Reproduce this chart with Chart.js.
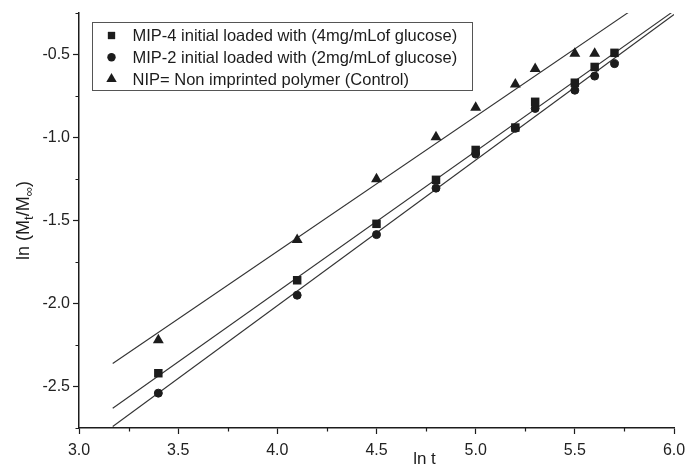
<!DOCTYPE html>
<html>
<head>
<meta charset="utf-8">
<title>ln(Mt/M∞) vs ln t</title>
<script src="https://cdn.jsdelivr.net/npm/chart.js@4.4.1/dist/chart.umd.min.js"></script>
<style>
  html, body { margin: 0; padding: 0; background: #ffffff; }
  canvas { display: block; }
</style>
</head>
<body>
<canvas id="chart" width="688" height="465"></canvas>
<script>
// ln t sampling points
const lnT  = [3.4, 4.1, 4.5, 4.8, 5.0, 5.2, 5.3, 5.5, 5.6, 5.7];
const nipT = [3.4, 4.1, 4.5, 4.8, 5.0, 5.2, 5.3, 5.5, 5.6];

// ln(Mt/M∞) for each polymer
const mip4 = [-2.42, -1.86, -1.52, -1.255, -1.075, -0.94, -0.785, -0.67, -0.575, -0.49];
const mip2 = [-2.54, -1.95, -1.585, -1.305, -1.10, -0.945, -0.825, -0.715, -0.63, -0.555];
const nip  = [-2.22, -1.617, -1.25, -0.997, -0.82, -0.68, -0.586, -0.494, -0.494];

// series names
const seriesNames = [
  'MIP-4 initial loaded with (4mg/mLof glucose)',
  'MIP-2 initial loaded with (2mg/mLof glucose)',
  'NIP= Non imprinted polymer (Control)'
];

// axis ranges and the ln t span covered by the regression lines
const xRange = [3.0, 6.0];
const yRange = [-2.75, -0.25];
const fitSpan = [3.17, 6.0];

const FONT = "'Liberation Sans', Arial, Helvetica, sans-serif";
const INK = '#1c1c1c';

// least-squares straight line through a series
function linearFit(xs, ys) {
  const n = xs.length;
  const mx = xs.reduce((a, b) => a + b, 0) / n;
  const my = ys.reduce((a, b) => a + b, 0) / n;
  let sxy = 0, sxx = 0;
  for (let i = 0; i < n; i++) {
    sxy += (xs[i] - mx) * (ys[i] - my);
    sxx += (xs[i] - mx) * (xs[i] - mx);
  }
  const slope = sxy / sxx;
  const icpt = my - slope * mx;
  return fitSpan.map(x => ({ x, y: icpt + slope * x }));
}

const toPoints = (xs, ys) => xs.map((x, i) => ({ x, y: ys[i] }));

const isMajor = v => Math.abs(v * 2 - Math.round(v * 2)) < 1e-6;

function markerDataset(label, xs, ys, style, radius) {
  return {
    label, data: toPoints(xs, ys), showLine: false,
    pointStyle: style, pointRadius: radius, pointHoverRadius: radius,
    backgroundColor: INK, borderColor: INK, borderWidth: style === 'circle' ? 1 : 0,
    order: 1, isMarker: true
  };
}
function fitDataset(xs, ys) {
  return {
    label: '', data: linearFit(xs, ys), showLine: true,
    pointRadius: 0, borderColor: '#333333', borderWidth: 1.1,
    fill: false, order: 2, isMarker: false
  };
}

// short minor ticks and axis titles
const axisDecor = {
  id: 'axisDecor',
  afterDraw(chart) {
    const { ctx, chartArea: a, scales: { x, y } } = chart;
    ctx.save();
    ctx.strokeStyle = INK;
    ctx.lineWidth = 1.2;
    ctx.beginPath();
    for (let v = xRange[0] + 0.25; v < xRange[1]; v += 0.5) {
      const px = Math.round(x.getPixelForValue(v)) + 0.5;
      ctx.moveTo(px, a.bottom);
      ctx.lineTo(px, a.bottom + 3.5);
    }
    for (let v = yRange[0]; v <= yRange[1] + 1e-9; v += 0.5) {
      const py = Math.round(y.getPixelForValue(v)) + 0.5;
      ctx.moveTo(a.left, py);
      ctx.lineTo(a.left - 3.5, py);
    }
    ctx.stroke();

    // x title
    ctx.fillStyle = INK;
    ctx.font = `17px ${FONT}`;
    ctx.textAlign = 'center';
    ctx.textBaseline = 'alphabetic';
    ctx.fillText('ln t', (a.left + a.right) / 2 + 48, 464);

    // y title with subscripts: ln (Mt/M∞)
    const parts = [
      ['ln (M', false], ['t', true], ['/M', false], ['\u221E', true], [')', false]
    ];
    const big = `18px ${FONT}`, small = `13px ${FONT}`;
    let total = 0;
    parts.forEach(([t, sub]) => { ctx.font = sub ? small : big; total += ctx.measureText(t).width; });
    ctx.translate(29, (a.top + a.bottom) / 2);
    ctx.rotate(-Math.PI / 2);
    ctx.textAlign = 'left';
    let cx = -total / 2;
    parts.forEach(([t, sub]) => {
      ctx.font = sub ? small : big;
      ctx.fillText(t, cx, sub ? 4 : 0);
      cx += ctx.measureText(t).width;
    });
    ctx.restore();
  }
};

// boxed legend in the upper left of the plot
function drawMarker(ctx, style, cx, cy, r) {
  ctx.beginPath();
  if (style === 'rect') {
    const s = r * Math.SQRT1_2;
    ctx.rect(cx - s, cy - s, 2 * s, 2 * s);
  } else if (style === 'circle') {
    ctx.arc(cx, cy, r, 0, Math.PI * 2);
  } else {
    for (let k = 0; k < 3; k++) {
      const ang = k * 2 * Math.PI / 3;
      const px = cx + Math.sin(ang) * r, py = cy - Math.cos(ang) * r;
      k ? ctx.lineTo(px, py) : ctx.moveTo(px, py);
    }
    ctx.closePath();
  }
  ctx.fill();
}
const boxLegend = {
  id: 'boxLegend',
  afterDatasetsDraw(chart) {
    const { ctx, chartArea: a } = chart;
    const left = a.left + 13.5, top = a.top + 9.5, w = 380, h = 68;
    ctx.save();
    ctx.fillStyle = '#ffffff';
    ctx.fillRect(left, top, w, h);
    ctx.strokeStyle = '#555555';
    ctx.lineWidth = 1;
    ctx.strokeRect(left, top, w, h);
    const markers = chart.data.datasets.filter(d => d.isMarker);
    const legendSize = { rect: 5.2, circle: 4.2, triangle: 6 };
    markers.forEach((d, i) => {
      const cy = top + 13 + i * 21.8;
      ctx.fillStyle = INK;
      drawMarker(ctx, d.pointStyle, left + 19, cy, legendSize[d.pointStyle]);
      ctx.font = `16.5px ${FONT}`;
      ctx.textAlign = 'left';
      ctx.textBaseline = 'middle';
      ctx.fillText(d.label, left + 40, cy + 1);
    });
    ctx.restore();
  }
};

new Chart(document.getElementById('chart'), {
  type: 'scatter',
  data: {
    datasets: [
      markerDataset(seriesNames[0], lnT, mip4, 'rect', 6),
      markerDataset(seriesNames[1], lnT, mip2, 'circle', 4),
      markerDataset(seriesNames[2], nipT, nip, 'triangle', 6.3),
      fitDataset(lnT, mip4),
      fitDataset(lnT, mip2),
      fitDataset(nipT, nip)
    ]
  },
  options: {
    responsive: false,
    animation: false,
    events: [],
    layout: { padding: { top: 13, right: 14, left: 0, bottom: 0 } },
    plugins: { legend: { display: false }, tooltip: { enabled: false } },
    scales: {
      x: {
        type: 'linear', min: xRange[0], max: xRange[1],
        border: { display: true, color: INK, width: 1.5 },
        grid: {
          drawOnChartArea: false, drawTicks: true, tickLength: 6, tickWidth: 1.2,
          tickColor: c => (c.tick && isMajor(c.tick.value)) ? INK : 'rgba(0,0,0,0)'
        },
        ticks: {
          stepSize: 0.25, autoSkip: false, maxRotation: 0, padding: 7,
          color: '#222', font: { family: FONT, size: 16 },
          callback: v => isMajor(v) ? v.toFixed(1) : ''
        },
        afterFit: s => { s.height = 37; s.paddingLeft = 0; s.paddingRight = 0; }
      },
      y: {
        type: 'linear', min: yRange[0], max: yRange[1],
        border: { display: true, color: INK, width: 1.5 },
        grid: {
          drawOnChartArea: false, drawTicks: true, tickLength: 6, tickWidth: 1.2,
          tickColor: c => (c.tick && isMajor(c.tick.value)) ? INK : 'rgba(0,0,0,0)'
        },
        ticks: {
          stepSize: 0.25, autoSkip: false, padding: 3,
          color: '#222', font: { family: FONT, size: 16 },
          callback: v => isMajor(v) ? v.toFixed(1) : ''
        },
        afterFit: s => { s.width = 79; s.paddingTop = 0; s.paddingBottom = 0; }
      }
    }
  },
  plugins: [axisDecor, boxLegend]
});
</script>
</body>
</html>
